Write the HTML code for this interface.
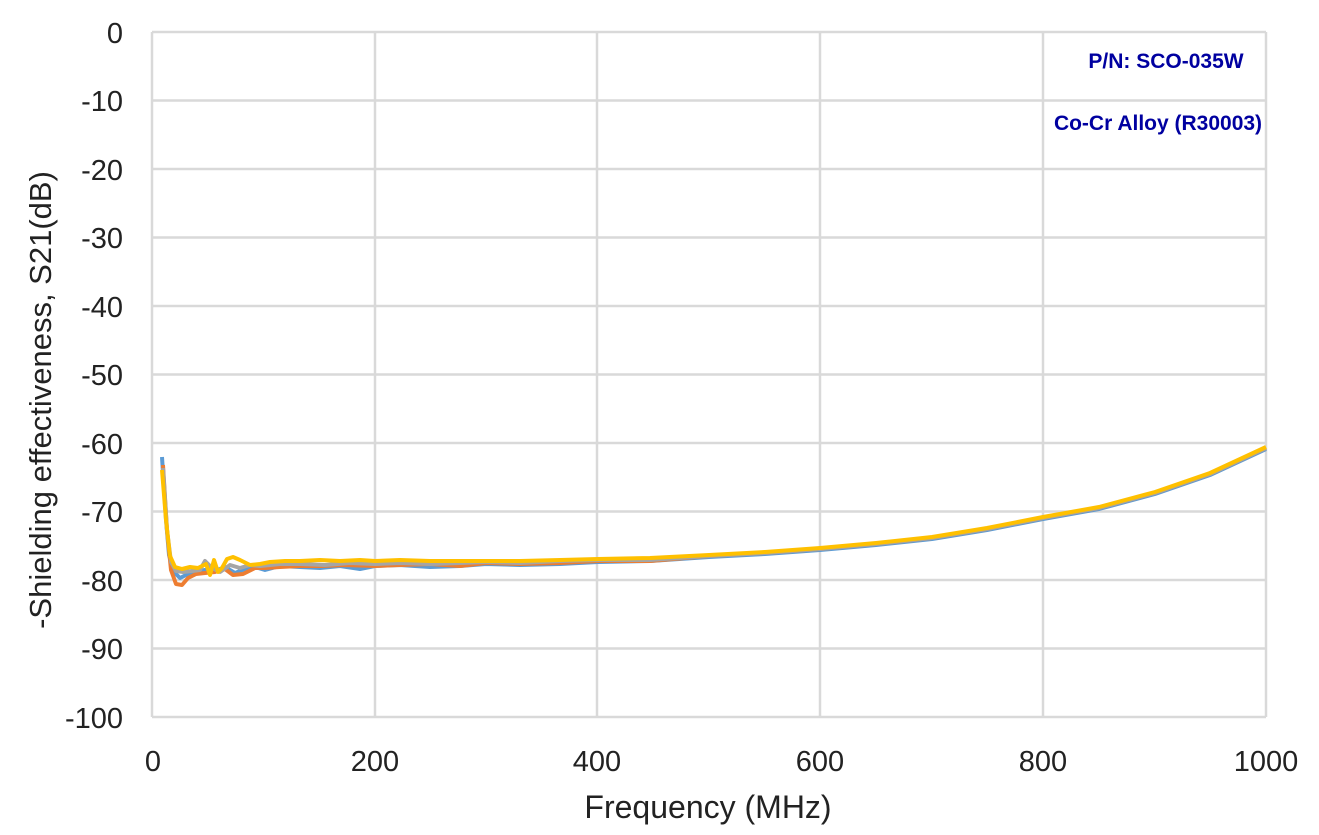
<!DOCTYPE html>
<html><head><meta charset="utf-8"><style>
html,body{margin:0;padding:0;background:#fff;}
svg{display:block;font-family:"Liberation Sans",Arial,sans-serif;}
</style></head><body>
<svg width="1319" height="835" viewBox="0 0 1319 835" xmlns="http://www.w3.org/2000/svg">
<g stroke="#d9d9d9" stroke-width="2.5" fill="none">
<line x1="152" y1="32" x2="1266" y2="32"/>
<line x1="152" y1="100.5" x2="1266" y2="100.5"/>
<line x1="152" y1="169" x2="1266" y2="169"/>
<line x1="152" y1="237.5" x2="1266" y2="237.5"/>
<line x1="152" y1="306" x2="1266" y2="306"/>
<line x1="152" y1="374.5" x2="1266" y2="374.5"/>
<line x1="152" y1="443" x2="1266" y2="443"/>
<line x1="152" y1="511.5" x2="1266" y2="511.5"/>
<line x1="152" y1="580" x2="1266" y2="580"/>
<line x1="152" y1="648.5" x2="1266" y2="648.5"/>
<line x1="152" y1="717" x2="1266" y2="717"/>
<line x1="152" y1="32" x2="152" y2="717"/>
<line x1="375" y1="32" x2="375" y2="717"/>
<line x1="597" y1="32" x2="597" y2="717"/>
<line x1="820" y1="32" x2="820" y2="717"/>
<line x1="1043" y1="32" x2="1043" y2="717"/>
<line x1="1266" y1="32" x2="1266" y2="717"/>
</g>
<g fill="none" stroke-width="4" stroke-linejoin="round">
<polyline stroke="#5B9BD5" points="162,457 166,520 169,555 174,572 180,578 186,575 195,572 205,570 215,571 225,567 235,573 245,569 255,567 265,570 280,566 300,567 320,568 340,566 360,569 375,566 400,565 430,567 460,566 486,564 520,565 560,564 598,562 650,561 709,557 765,554 820,550 876,545 932,539 987,530 1043,519 1099,509 1155,494 1210,475 1266,449"/>
<polyline stroke="#ED7D31" points="163,465 167,530 171,570 176,584 182,585 188,578 196,574 205,573 215,572 225,569 233,575 243,574 255,568 265,568 280,567 300,566 320,566 345,565 375,566 400,565 430,564 460,566 486,563 520,564 560,563 598,561 650,561 709,556 765,553 820,549 876,544 932,538 987,529 1043,518 1099,508 1155,493 1210,474 1266,448"/>
<polyline stroke="#A5A5A5" points="163,468 167,530 171,562 176,571 183,572 192,571 200,570 205,561 212,568 220,572 230,565 240,568 250,565 260,566 280,564 300,564 325,565 350,563 375,564 400,563 430,564 460,563 486,562 520,563 560,561 598,560 650,560 709,556 765,553 820,549 876,544 932,538 987,529 1043,518 1099,508 1155,493 1210,474 1266,448"/>
<polyline stroke="#FFC000" points="162,470 166,520 170,556 175,567 182,569 190,567 198,568 206,564 210,575 214,560 218,572 222,568 227,559 233,557 240,560 250,565 260,564 270,562 285,561 300,561 320,560 340,561 360,560 375,561 400,560 430,561 460,561 486,561 520,561 560,560 598,559 650,558 709,555 765,552 820,548 876,543 932,537 987,528 1043,517 1099,507 1155,492 1210,473 1266,447"/>
</g>
<g font-size="29" fill="#222" text-anchor="end">
<text x="123" y="43">0</text>
<text x="123" y="111">-10</text>
<text x="123" y="180">-20</text>
<text x="123" y="248">-30</text>
<text x="123" y="317">-40</text>
<text x="123" y="385">-50</text>
<text x="123" y="454">-60</text>
<text x="123" y="522">-70</text>
<text x="123" y="591">-80</text>
<text x="123" y="659">-90</text>
<text x="123" y="728">-100</text>
</g>
<g font-size="29" fill="#222" text-anchor="middle">
<text x="153" y="771">0</text>
<text x="375" y="771">200</text>
<text x="597" y="771">400</text>
<text x="820" y="771">600</text>
<text x="1043" y="771">800</text>
<text x="1266" y="771">1000</text>
</g>
<text x="708" y="818" font-size="32" fill="#222" text-anchor="middle">Frequency (MHz)</text>
<text transform="translate(51,400) rotate(-90)" font-size="31" fill="#222" text-anchor="middle">-Shielding effectiveness, S21(dB)</text>
<text x="1166" y="68" font-size="21" font-weight="bold" fill="#0000A0" text-anchor="middle">P/N: SCO-035W</text>
<text x="1158" y="130" font-size="21" font-weight="bold" fill="#0000A0" text-anchor="middle">Co-Cr Alloy (R30003)</text>
</svg>
</body></html>
